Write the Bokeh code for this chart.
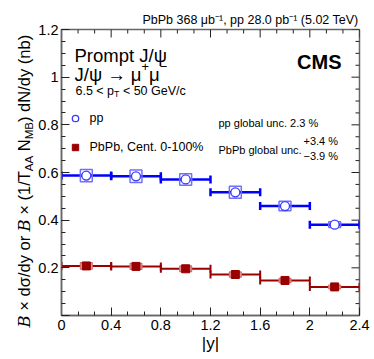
import math
from bokeh.plotting import figure
from bokeh.layouts import row
from bokeh.models import (ColumnDataSource, Whisker, TeeHead, Label, Title,
                          SingleIntervalTicker, CustomJSTickFormatter, Legend,
                          LegendItem, Range1d)
from bokeh.embed import file_html
from bokeh.resources import INLINE

# ---------------- data ----------------
bin_lo = [0.0, 0.4, 0.8, 1.2, 1.6, 2.0]
bin_hi = [0.4, 0.8, 1.2, 1.6, 2.0, 2.4]
bin_center = [0.2, 0.6, 1.0, 1.4, 1.8, 2.2]
pp_value = [0.587, 0.584, 0.571, 0.517, 0.459, 0.381]
pp_syst = [0.026, 0.026, 0.024, 0.025, 0.020, 0.012]
pbpb_value = [0.208, 0.206, 0.196, 0.172, 0.147, 0.120]
pbpb_syst = [0.014, 0.013, 0.012, 0.011, 0.009, 0.008]
x_major_ticks = [0.0, 0.4, 0.8, 1.2, 1.6, 2.0, 2.4]
y_major_ticks = [0.0, 0.2, 0.4, 0.6, 0.8, 1.0, 1.2]
x_minor_ticks = [i * 0.4 / 3 for i in range(19) if i % 3]
y_minor_ticks = [i * 0.05 for i in range(25) if i % 4]

BOX_W = 0.096

# ---------------- layout (page px) ----------------
W, H = 374, 359
LEFT_W = 35          # strip holding the y title
MAIN_W, MAIN_H = W - LEFT_W, H
MB_L, MB_R, MB_T, MB_B = 59 - LEFT_W, 15, 29, 44
XMIN, XMAX, YMIN, YMAX = 0.0, 2.4, 0.0, 1.2
EPS = 1e-6

FONT = "Liberation Sans"
AXIS_COL = "#666666"
TICK_COL = "#222222"

left = figure(width=LEFT_W, height=H, output_backend="svg", toolbar_location=None,
              title=None, x_axis_type=None, y_axis_type=None,
              x_range=Range1d(0, LEFT_W), y_range=Range1d(0, H),
              min_border=0, min_border_left=0, min_border_right=0,
              min_border_top=0, min_border_bottom=0)
left.outline_line_color = None
left.grid.visible = False
left.background_fill_color = "white"
left.border_fill_color = "white"
left.frame_align = False

p = figure(width=MAIN_W, height=MAIN_H, output_backend="svg", toolbar_location=None,
           x_range=Range1d(XMIN, XMAX + EPS), y_range=Range1d(YMIN, YMAX + EPS),
           min_border_left=MB_L, min_border_right=MB_R,
           min_border_top=MB_T, min_border_bottom=MB_B)
p.frame_align = False
p.title = Title(text="PbPb 368 μb⁻¹, pp 28.0 pb⁻¹ (5.02 TeV)", align="right",
                text_font=FONT, text_font_size="12.5px", text_font_style="normal",
                text_color="black", standoff=5, offset=1)
p.outline_line_color = AXIS_COL
p.outline_line_width = 1.5
p.grid.visible = False
p.background_fill_color = "white"

xt = SingleIntervalTicker(interval=0.4, num_minor_ticks=3)
yt = SingleIntervalTicker(interval=0.2, num_minor_ticks=4)
xfmt = CustomJSTickFormatter(code="return String(parseFloat(tick.toFixed(2)));")
yfmt = CustomJSTickFormatter(code="return Math.abs(tick) < 1e-9 ? '' : String(parseFloat(tick.toFixed(2)));")

for ax, tk, fm in ((p.xaxis[0], xt, xfmt), (p.yaxis[0], yt, yfmt)):
    ax.ticker = tk
    ax.formatter = fm
    ax.major_tick_in = 8
    ax.major_tick_out = 0
    ax.minor_tick_in = 4
    ax.minor_tick_out = 0
    ax.axis_line_color = AXIS_COL
    ax.axis_line_width = 1.5
    ax.major_tick_line_color = TICK_COL
    ax.minor_tick_line_color = TICK_COL
    ax.major_label_text_font = FONT
    ax.major_label_text_font_size = "14.5px"
    ax.major_label_text_color = "black"
p.xaxis.major_label_standoff = 4
p.yaxis.major_label_standoff = 3

p.xaxis.axis_label = "|y|"
p.xaxis.axis_label_text_font = FONT
p.xaxis.axis_label_text_font_size = "17px"
p.xaxis.axis_label_text_font_style = "normal"
p.xaxis.axis_label_text_color = "black"
p.xaxis.axis_label_standoff = 1

# mirrored ticks on top and right edges of the frame
p.ray(x=XMAX, y=y_major_ticks, length=8, length_units="screen", angle=math.pi,
      line_color=TICK_COL, line_width=1)
p.ray(x=XMAX, y=y_minor_ticks, length=4, length_units="screen", angle=math.pi,
      line_color=TICK_COL, line_width=1)
p.ray(x=x_major_ticks, y=YMAX, length=8, length_units="screen", angle=-math.pi / 2,
      line_color=TICK_COL, line_width=1)
p.ray(x=x_minor_ticks, y=YMAX, length=4, length_units="screen", angle=-math.pi / 2,
      line_color=TICK_COL, line_width=1)

# ---------------- data marks ----------------
pp_src = ColumnDataSource(dict(x=bin_center, y=pp_value, lo=bin_lo, hi=bin_hi,
                               h=[2 * s for s in pp_syst]))
pb_src = ColumnDataSource(dict(x=bin_center, y=pbpb_value, lo=bin_lo, hi=bin_hi,
                               h=[2 * s for s in pbpb_syst]))

p.rect(x="x", y="y", width=BOX_W, height="h", source=pp_src,
       fill_alpha=0, line_color="#7070ff", line_width=1.5)
p.rect(x="x", y="y", width=BOX_W, height="h", source=pb_src,
       fill_color="#e8a0a0", line_color="#d07070", line_width=1.2)

p.add_layout(Whisker(base="y", lower="lo", upper="hi", dimension="width", source=pp_src,
                     line_color="#0000ff", line_width=2.5, level="underlay",
                     lower_head=TeeHead(size=8, line_color="#0000ff", line_width=2.5),
                     upper_head=TeeHead(size=8, line_color="#0000ff", line_width=2.5)))
p.add_layout(Whisker(base="y", lower="lo", upper="hi", dimension="width", source=pb_src,
                     line_color="#990000", line_width=2, level="underlay",
                     lower_head=TeeHead(size=8, line_color="#990000", line_width=2),
                     upper_head=TeeHead(size=8, line_color="#990000", line_width=2)))

pp_r = p.scatter(x="x", y="y", source=pp_src, marker="circle", size=9,
                 fill_color="white", line_color="#3a3aff", line_width=1.3)
pb_r = p.scatter(x="x", y="y", source=pb_src, marker="square", size=8,
                 fill_color="#990000", line_color="#990000", line_width=1)

legend = Legend(items=[LegendItem(label="pp", renderers=[pp_r]),
                       LegendItem(label="PbPb, Cent. 0-100%", renderers=[pb_r])],
                location=(5.5, 158), orientation="vertical",
                glyph_width=16, glyph_height=16, label_standoff=7, spacing=9,
                label_height=20, padding=0, margin=0,
                border_line_alpha=0, background_fill_alpha=0,
                label_text_font=FONT, label_text_font_size="12.5px",
                label_text_color="black")
p.add_layout(legend)

# ---------------- text helpers ----------------
AW = {' ': 278, '.': 278, ',': 278, '<': 584, '>': 584, '%': 889, '+': 584, '-': 333,
      '−': 584, '×': 584, '/': 278, '(': 333, ')': 333, '|': 260, 'μ': 576, 'ψ': 712,
      'σ': 600, '→': 1000,
      'a': 556, 'b': 556, 'c': 500, 'd': 556, 'e': 556, 'f': 278, 'g': 556, 'h': 556,
      'i': 222, 'j': 222, 'k': 500, 'l': 222, 'm': 833, 'n': 556, 'o': 556, 'p': 556,
      'q': 556, 'r': 333, 's': 500, 't': 278, 'u': 556, 'v': 500, 'w': 722, 'x': 500,
      'y': 500, 'z': 500,
      'A': 667, 'B': 667, 'C': 722, 'D': 722, 'E': 667, 'F': 611, 'G': 778, 'H': 722,
      'I': 278, 'J': 500, 'K': 667, 'L': 556, 'M': 833, 'N': 722, 'O': 778, 'P': 667,
      'Q': 778, 'R': 722, 'S': 667, 'T': 611, 'U': 722, 'V': 667, 'W': 944, 'X': 667,
      'Y': 667, 'Z': 611}

ORIGIN = {id(left): (0, 0), id(p): (LEFT_W, 0)}


def twidth(s, size, kind):
    if kind == "it":
        return 0.74 * size * len(s)
    return sum(AW.get(c, 556) for c in s) / 1000.0 * size


def put(fig, text, px, py, size, font=FONT, style="normal", align="left", angle=0.0,
        color="black"):
    ox, oy = ORIGIN[id(fig)]
    fig.add_layout(Label(x=px - ox, y=py - oy, x_units="canvas", y_units="canvas",
                         text=text, text_font=font, text_font_style=style,
                         text_font_size=f"{size:.1f}px", text_color=color,
                         text_align=align, text_baseline="alphabetic",
                         angle=angle, angle_units="rad"))


def rich(fig, parts, x0, y0, size, align="left", rotated=False):
    """x0,y0 in page px (from top-left): text start and baseline."""
    items = []
    total = 0.0
    for text, kind in parts:
        sz = size * 0.7 if kind in ("sub", "sup") else size
        lead = len(text) - len(text.lstrip(" "))
        w_lead = twidth(" " * lead, sz, "n")
        items.append((text.strip(" "), kind, sz, total + w_lead))
        total += twidth(text, sz, kind) if kind == "it" else twidth(text, sz, "n")
    shift = {"right": -total, "center": -total / 2}.get(align, 0.0)
    for text, kind, sz, off in items:
        if not text:
            continue
        perp = 0.3 * size if kind == "sub" else (-0.42 * size if kind == "sup" else 0.0)
        font = "DejaVu Serif" if kind == "it" else FONT
        style = "italic" if kind == "it" else "normal"
        if rotated:
            put(fig, text, x0 + perp, y0 - (off + shift), sz, font, style, angle=math.pi / 2)
        else:
            put(fig, text, x0 + off + shift, y0 + perp, sz, font, style)


# labels inside frame
rich(p, [("Prompt J/ψ", "n")], 74, 55, 18.5)
rich(p, [("J/ψ → μ", "n"), ("+", "sup"), ("μ", "n"), ("−", "sup")], 74, 73.5, 18.5)
rich(p, [("6.5 < p", "n"), ("T", "sub"), (" < 50 GeV/c", "n")], 75, 90, 12.5)
put(p, "CMS", 341, 61.5, 20, style="bold", align="right")
rich(p, [("pp global unc. 2.3 %", "n")], 218, 122, 11)
rich(p, [("PbPb global unc.", "n")], 218, 149, 11)
rich(p, [("+3.4 %", "n")], 303, 140, 11)
rich(p, [("−3.9 %", "n")], 303, 155, 11)

# y title (rotated, with sub-scripts)
rich(left, [("B", "it"), (" × dσ/dy or ", "n"), ("B", "it"), (" × (1/T", "n"),
            ("AA", "sub"), (" N", "n"), ("MB", "sub"), (") dN/dy (nb)", "n")],
     23.5, 327, 16.5, rotated=True)

layout = row(left, p)
open("out.html", "w").write(file_html(layout, INLINE))
